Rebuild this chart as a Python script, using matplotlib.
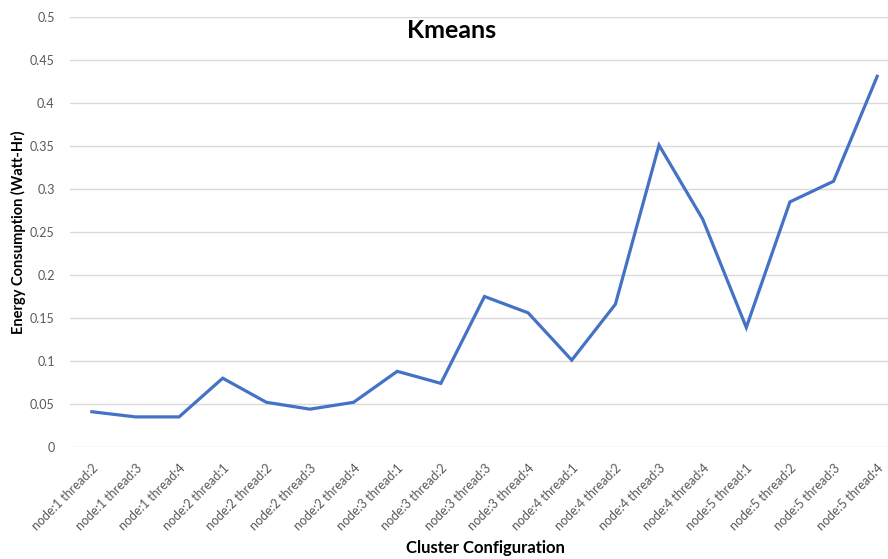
import matplotlib
matplotlib.use("Agg")
import matplotlib.pyplot as plt

# energy use per cluster configuration (Watt-Hr)
configs = [
    "node:1 thread:2", "node:1 thread:3", "node:1 thread:4",
    "node:2 thread:1", "node:2 thread:2", "node:2 thread:3", "node:2 thread:4",
    "node:3 thread:1", "node:3 thread:2", "node:3 thread:3", "node:3 thread:4",
    "node:4 thread:1", "node:4 thread:2", "node:4 thread:3", "node:4 thread:4",
    "node:5 thread:1", "node:5 thread:2", "node:5 thread:3", "node:5 thread:4",
]
energy = [0.041, 0.035, 0.035, 0.080, 0.052, 0.044, 0.052,
          0.088, 0.074, 0.175, 0.156, 0.101, 0.166, 0.351,
          0.265, 0.139, 0.285, 0.309, 0.431]
yticks = [0, 0.05, 0.1, 0.15, 0.2, 0.25, 0.3, 0.35, 0.4, 0.45, 0.5]
ytick_labels = ["0", "0.05", "0.1", "0.15", "0.2", "0.25", "0.3", "0.35", "0.4", "0.45", "0.5"]

plt.rcParams["font.family"] = ["Lato", "DejaVu Sans"]

fig = plt.figure(figsize=(8.88, 5.59), dpi=100)
ax = fig.add_axes([70 / 888, 1 - 447 / 559, 829 / 888, 430 / 559])

x = list(range(len(configs)))
ax.plot(x, energy, color="#4472C4", linewidth=2.3, solid_joinstyle="miter", zorder=3)

ax.set_xlim(-0.5, len(configs) - 0.5)
ax.set_ylim(0, 0.5)
ax.set_yticks(yticks)
ax.set_yticklabels(ytick_labels, color="#595959", fontsize=9)
ax.set_xticks(x)
ax.set_xticklabels(configs, rotation=45, ha="right", rotation_mode="anchor",
                   color="#595959", fontsize=9)
ax.tick_params(axis="both", length=0)
ax.tick_params(axis="y", pad=11)
ax.tick_params(axis="x", pad=11)

ax.grid(True, axis="y", color="#D9D9D9", linewidth=1, zorder=0)
for s in ax.spines.values():
    s.set_visible(False)

fig.text(18 / 888, 1 - 232 / 559, "Energy Consumption (Watt-Hr)", rotation=90,
         ha="center", va="center", fontsize=10.5, fontweight="bold")
fig.text(485 / 888, 1 - 548 / 559, "Cluster Configuration", ha="center", va="center",
         fontsize=12, fontweight="bold")
fig.text(452 / 888, 1 - 31 / 559, "Kmeans", ha="center", va="center",
         fontsize=18, fontweight="bold")

fig.savefig("out.png", dpi=100, facecolor="white")
